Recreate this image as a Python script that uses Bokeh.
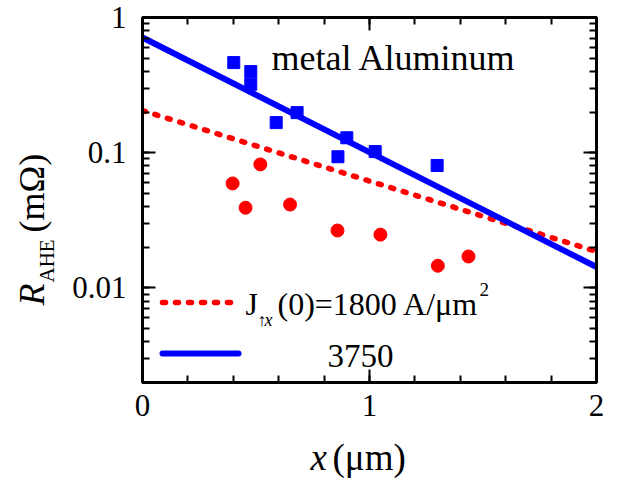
import math
from bokeh.plotting import figure
from bokeh.models import (LinearAxis, LogAxis, LogTicker, SingleIntervalTicker,
                          Label, NumeralTickFormatter, Range1d, CustomJSTickFormatter)
from bokeh.embed import file_html
from bokeh.resources import INLINE

# ---- data ----
sq_x = [0.402, 0.477, 0.477, 0.589, 0.681, 0.861, 0.900, 1.025, 1.298]
sq_y = [0.464, 0.398, 0.321, 0.167, 0.198, 0.0934, 0.129, 0.102, 0.0805]
ci_x = [0.397, 0.454, 0.519, 0.650, 0.859, 1.048, 1.301, 1.436]
ci_y = [0.0593, 0.0392, 0.082, 0.0414, 0.0266, 0.0248, 0.0146, 0.0171]
fit_x = [0.0, 2.0]
fit_blue = [0.711, 0.0143]   # 3750
fit_red = [0.205, 0.0186]    # 1800

FONT = "Liberation Serif"
RED = "#ff0000"
BLUE = "#0000ff"

W, H = 623, 481
L, R_, T, B = 142, 27, 17, 99
FW, FH = W - L - R_, H - T - B
XMIN, XMAX = 0.0, 2.0
YMIN, YMAX = 0.002, 1.0
SHIFT = 0.3   # baseline correction (fraction of font size)

# page-pixel -> data helpers
def sx(px):
    return XMIN + (px - L) / FW * (XMAX - XMIN)

def sy(py):
    lmin, lmax = math.log10(YMIN), math.log10(YMAX)
    return 10 ** (lmax - (py - T) / FH * (lmax - lmin))

p = figure(width=W, height=H, x_range=Range1d(XMIN, XMAX), y_range=Range1d(YMIN, YMAX),
           y_axis_type="log", output_backend="svg", toolbar_location=None,
           min_border_left=L, min_border_right=R_, min_border_top=T, min_border_bottom=B,
           x_axis_location=None, y_axis_location=None)
p.grid.visible = False
p.outline_line_color = "black"
p.outline_line_width = 3
p.background_fill_color = "white"
p.border_fill_color = "white"

blank = CustomJSTickFormatter(code="return ''")

def style(ax, labels=True):
    ax.major_tick_in = 13
    ax.major_tick_out = 0
    ax.minor_tick_in = 7
    ax.minor_tick_out = 0
    ax.major_tick_line_width = 2
    ax.minor_tick_line_width = 2
    ax.axis_line_width = 3
    ax.axis_line_color = "black"
    ax.major_tick_line_color = "black"
    ax.minor_tick_line_color = "black"
    ax.major_label_text_font = FONT
    ax.major_label_text_font_size = "31px"
    ax.major_label_text_color = "black"
    if not labels:
        ax.formatter = blank
        ax.major_label_standoff = 0

xt = SingleIntervalTicker(interval=1, num_minor_ticks=5)
yt = LogTicker(desired_num_ticks=3, num_minor_ticks=10)

xb = LinearAxis(ticker=xt)
style(xb)
xb.major_label_standoff = 12
xa = LinearAxis(ticker=xt)
style(xa, labels=False)
yl = LogAxis(ticker=yt, formatter=NumeralTickFormatter(format="0.[000]"))
style(yl)
yl.major_label_standoff = 16
yr = LogAxis(ticker=yt)
style(yr, labels=False)
p.add_layout(xb, "below")
p.add_layout(xa, "above")
p.add_layout(yl, "left")
p.add_layout(yr, "right")

# fit lines
p.line(fit_x, fit_red, line_color=RED, line_width=5.5, line_dash="3 10", line_cap="round")
p.line(fit_x, fit_blue, line_color=BLUE, line_width=6)

# data points
p.scatter(ci_x, ci_y, marker="circle", size=13, fill_color=RED, line_color=RED)
p.scatter(sq_x, sq_y, marker="square", size=12, fill_color=BLUE, line_color=BLUE)

# legend keys
p.segment(x0=[sx(162)], y0=[sy(302)], x1=[sx(238)], y1=[sy(302)], line_color=RED,
          line_width=5.5, line_dash="3 10", line_cap="round")
p.segment(x0=[sx(162)], y0=[sy(353)], x1=[sx(238)], y1=[sy(353)], line_color=BLUE,
          line_width=6, line_cap="round")

def lab(text, px, py, size, italic=False):
    py = py - SHIFT * size
    p.add_layout(Label(x=sx(px), y=sy(py), text=text, text_font=FONT,
                       text_font_size=f"{size}px",
                       text_font_style="italic" if italic else "normal",
                       text_color="black", text_align="left", text_baseline="alphabetic"))

def clab(side, text, px, py, size, italic=False, rotated=False):
    if rotated:
        px = px - SHIFT * size
    else:
        py = py - SHIFT * size
    p.add_layout(Label(x=px, y=py, x_units="canvas", y_units="canvas", text=text,
                       text_font=FONT, text_font_size=f"{size}px",
                       text_font_style="italic" if italic else "normal",
                       text_color="black", text_align="left", text_baseline="alphabetic",
                       angle=math.pi / 2 if rotated else 0.0), side)

lab("metal Aluminum", 271, 68, 36)
lab("J", 245, 313, 32)
lab("\u2191", 257, 325, 18)
lab("x", 264, 325, 18, italic=True)
lab("(0)=1800 A/\u03bcm", 277, 313, 32)
lab("2", 479, 295, 19)
lab("3750", 327, 365, 33)

# x label
clab("right", "x", 310, 468, 37, italic=True)
clab("below", "(\u03bcm)", 332, 468, 37)

# y label (rotated)
clab("below", "R", 42, 305, 36, italic=True, rotated=True)
clab("left", "AHE", 53, 282, 21, rotated=True)
clab("left", "(m\u03a9)", 42, 232, 36, rotated=True)

open("out.html", "w").write(file_html(p, INLINE))
